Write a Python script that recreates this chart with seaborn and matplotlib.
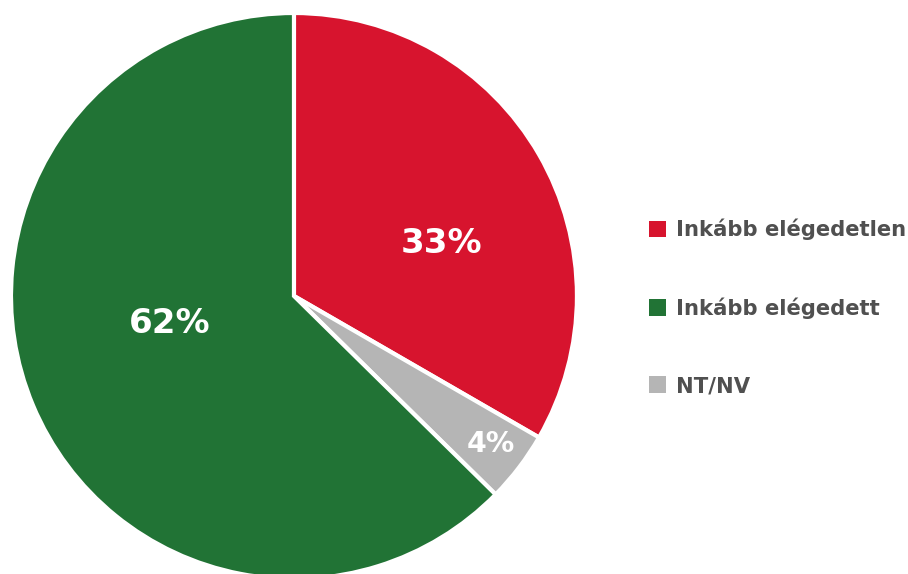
import matplotlib
matplotlib.use("Agg")
import matplotlib.pyplot as plt
import seaborn as sns

# Survey answer shares (%), clockwise from the top
labels = ["Inkább elégedetlen", "NT/NV", "Inkább elégedett"]
values = [33, 4, 62]
pct_text = ["33%", "4%", "62%"]
colors = ["#D7142E", "#B5B5B5", "#217335"]

# legend order differs from the slice order
legend_order = [0, 2, 1]

sns.set_theme(style="white")
plt.rcParams["font.family"] = ["DejaVu Sans"]

fig = plt.figure(figsize=(9.08, 5.74), dpi=100)
fig.patch.set_facecolor("white")
ax = fig.add_axes([0.0121, -0.0087, 0.6233, 0.9861])

wedges, _ = ax.pie(
    values,
    colors=colors,
    startangle=90,
    counterclock=False,
    radius=1.0,
    wedgeprops=dict(edgecolor="white", linewidth=3),
)
for w in wedges:
    w.set_clip_on(False)
ax.set_xlim(-1, 1)
ax.set_ylim(-1, 1)
ax.set_aspect("equal")
ax.axis("off")

# percentage labels (positions as fraction of radius)
label_pos = [(0.523, 0.184), (0.696, -0.523), (-0.438, -0.099)]
label_size = [24.5, 20.5, 24.5]
for txt, (x, y), fs in zip(pct_text, label_pos, label_size):
    ax.text(x, y, txt, color="white", fontsize=fs, fontweight="bold",
            ha="center", va="center")

leg = fig.legend(
    [wedges[i] for i in legend_order],
    [labels[i] for i in legend_order],
    loc="upper left",
    bbox_to_anchor=(649 / 908, 1 - 219 / 574),
    frameon=False,
    fontsize=15.2,
    handlelength=0.82,
    handleheight=0.82,
    handletextpad=0.45,
    labelspacing=2.7,
    borderpad=0,
    borderaxespad=0,
)
for t in leg.get_texts():
    t.set_color("#505050")
    t.set_fontweight("bold")
for h in leg.legend_handles:
    h.set_linewidth(0)

fig.savefig("out.png", dpi=100)
